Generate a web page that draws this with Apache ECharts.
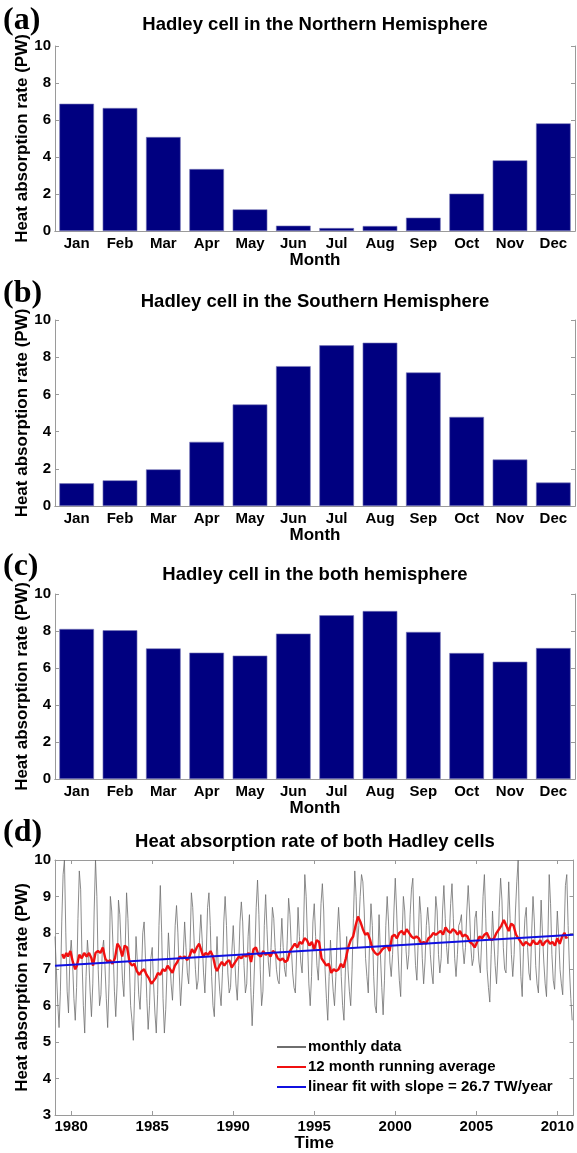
<!DOCTYPE html>
<html>
<head>
<meta charset="utf-8">
<script src="https://cdn.jsdelivr.net/npm/echarts@6/dist/echarts.min.js"></script>
<style>
html, body { margin: 0; padding: 0; background: #fff; }
#chart { width: 577px; height: 1153px; }
</style>
</head>
<body>
<div id="chart"></div>
<script>
// ---- data ----
var months = ['Jan', 'Feb', 'Mar', 'Apr', 'May', 'Jun', 'Jul', 'Aug', 'Sep', 'Oct', 'Nov', 'Dec'];
var northHadley = [6.88, 6.65, 5.08, 3.35, 1.17, 0.29, 0.16, 0.27, 0.72, 2.02, 3.82, 5.82];
var southHadley = [1.22, 1.38, 1.97, 3.45, 5.46, 7.52, 8.64, 8.78, 7.18, 4.79, 2.50, 1.26];
var bothHadley  = [8.11, 8.04, 7.06, 6.83, 6.67, 7.86, 8.85, 9.08, 7.95, 6.81, 6.34, 7.08];

var startYear = 1979;
var yearTicks = [1980, 1985, 1990, 1995, 2000, 2005, 2010];
// monthly data, one row per year 1979..2010
var monthlyByYear = [
  [7.9, 7.0, 6.1, 5.4, 6.4, 8.3, 9.6, 10.0, 8.0, 6.4, 5.8, 7.3],
  [7.8, 7.2, 6.2, 5.6, 6.5, 8.4, 9.7, 9.2, 7.3, 6.0, 5.25, 6.8],
  [7.8, 7.3, 6.4, 5.7, 6.6, 8.6, 10.0, 9.0, 7.0, 6.0, 6.3, 7.5],
  [7.8, 7.1, 6.2, 5.4, 6.6, 9.0, 8.6, 7.6, 6.4, 5.7, 6.6, 8.9],
  [8.5, 7.6, 6.7, 6.25, 7.6, 9.1, 8.4, 7.2, 6.0, 5.6, 5.05, 6.4],
  [7.9, 7.2, 6.3, 5.9, 6.8, 8.0, 8.3, 7.3, 6.2, 5.35, 6.0, 7.3],
  [7.6, 6.6, 5.8, 5.25, 6.3, 8.2, 9.3, 8.0, 6.2, 5.25, 5.9, 7.0],
  [8.0, 7.3, 6.6, 6.15, 7.0, 8.2, 8.75, 8.0, 6.9, 6.0, 5.95, 7.4],
  [8.3, 7.6, 6.9, 6.6, 7.6, 9.1, 8.7, 7.8, 7.0, 6.45, 6.7, 7.8],
  [8.5, 7.8, 6.9, 6.35, 7.4, 8.7, 9.1, 8.2, 6.8, 6.0, 5.7, 7.0],
  [7.9, 7.0, 6.4, 6.0, 6.9, 8.3, 9.0, 8.2, 6.9, 6.35, 6.5, 7.5],
  [8.2, 7.4, 6.6, 6.15, 7.1, 8.3, 8.85, 8.3, 7.1, 6.35, 6.6, 7.9],
  [8.5, 6.5, 5.45, 6.3, 7.4, 8.7, 9.45, 8.5, 7.0, 6.0, 6.4, 8.2],
  [9.05, 8.1, 7.2, 6.8, 7.6, 8.7, 8.4, 7.6, 7.0, 6.7, 6.6, 7.6],
  [8.4, 7.6, 7.0, 6.8, 7.8, 8.95, 8.5, 7.6, 6.9, 6.5, 6.35, 7.5],
  [8.7, 7.9, 7.2, 6.9, 8.0, 9.6, 9.0, 7.8, 6.6, 6.0, 6.8, 8.3],
  [8.8, 7.9, 7.1, 6.7, 7.6, 8.8, 9.35, 8.6, 7.0, 6.2, 5.6, 6.8],
  [7.8, 7.0, 6.4, 6.0, 6.8, 8.0, 8.7, 8.0, 6.8, 6.0, 5.6, 6.9],
  [7.9, 7.0, 6.4, 6.0, 7.0, 8.4, 9.7, 9.0, 7.6, 8.2, 9.0, 9.6],
  [9.4, 8.6, 7.3, 6.8, 6.35, 7.8, 8.8, 8.2, 6.8, 6.0, 5.8, 7.2],
  [8.5, 7.4, 6.5, 5.75, 6.7, 8.2, 9.0, 8.3, 7.2, 6.8, 7.4, 8.6],
  [9.5, 8.6, 7.5, 6.7, 6.25, 7.8, 9.0, 8.6, 7.5, 7.0, 7.4, 8.5],
  [9.2, 9.5, 8.0, 7.1, 6.7, 7.8, 9.0, 8.5, 7.3, 6.6, 7.2, 8.2],
  [8.7, 8.2, 7.4, 6.9, 6.6, 7.9, 9.0, 8.6, 7.4, 6.9, 7.3, 8.6],
  [9.3, 8.4, 7.6, 7.15, 7.9, 8.8, 9.35, 8.4, 7.3, 6.8, 7.4, 8.2],
  [8.3, 8.5, 7.6, 7.15, 7.6, 8.6, 9.3, 8.6, 7.6, 7.1, 7.3, 8.4],
  [8.6, 7.8, 7.2, 6.9, 7.8, 9.0, 9.6, 8.4, 7.0, 6.5, 6.1, 7.4],
  [8.6, 7.8, 7.1, 6.6, 7.4, 8.7, 9.5, 8.9, 7.6, 7.0, 6.9, 8.2],
  [9.4, 8.4, 7.4, 6.8, 7.4, 8.6, 9.4, 10.0, 8.0, 6.8, 6.25, 7.6],
  [8.4, 8.7, 7.6, 6.9, 6.7, 8.0, 9.0, 8.3, 7.1, 6.6, 6.35, 7.6],
  [8.9, 8.0, 7.2, 6.6, 6.25, 7.8, 9.6, 8.8, 7.4, 6.7, 6.45, 7.6],
  [8.6, 7.9, 7.0, 6.6, 6.3, 7.9, 9.3, 9.6, 8.2, 7.0, 6.2, 5.6]
];
// 12 month running average, [year, PW]
var runningAvg = [
  [1979.45,7.42],[1979.55,7.3],[1979.7,7.45],[1979.8,7.35],[1979.95,7.5],[1980.1,7.2],[1980.25,7.0],[1980.35,7.1],
  [1980.5,7.4],[1980.65,7.3],[1980.8,7.45],[1980.95,7.35],[1981.1,7.45],[1981.25,7.3],[1981.35,7.1],[1981.5,7.45],
  [1981.65,7.5],[1981.8,7.45],[1981.95,7.6],[1982.1,7.3],[1982.25,7.2],[1982.4,7.25],[1982.55,7.15],[1982.7,7.3],
  [1982.85,7.7],[1983.0,7.6],[1983.15,7.35],[1983.3,7.65],[1983.45,7.6],[1983.6,7.2],[1983.75,7.1],[1983.9,7.15],
  [1984.05,6.95],[1984.2,6.85],[1984.35,6.95],[1984.5,7.0],[1984.65,6.85],[1984.8,6.75],[1984.95,6.6],[1985.05,6.55],
  [1985.2,6.75],[1985.35,6.9],[1985.5,6.85],[1985.65,7.0],[1985.8,6.95],[1985.95,7.1],[1986.1,7.0],[1986.25,6.9],
  [1986.4,7.1],[1986.55,7.2],[1986.7,7.35],[1986.85,7.3],[1987.0,7.35],[1987.15,7.25],[1987.3,7.35],[1987.45,7.55],
  [1987.6,7.45],[1987.75,7.6],[1987.9,7.7],[1988.0,7.65],[1988.15,7.35],[1988.3,7.45],[1988.45,7.4],[1988.6,7.5],
  [1988.75,7.35],[1988.9,7.05],[1989.0,6.95],[1989.15,7.1],[1989.3,7.2],[1989.45,7.1],[1989.6,7.2],[1989.75,7.25],
  [1989.9,7.05],[1990.05,7.15],[1990.2,7.25],[1990.35,7.35],[1990.5,7.3],[1990.65,7.4],[1990.8,7.35],[1990.95,7.45],
  [1991.1,7.2],[1991.25,7.55],[1991.4,7.6],[1991.55,7.4],[1991.7,7.35],[1991.85,7.5],[1992.0,7.4],[1992.15,7.45],
  [1992.3,7.35],[1992.45,7.5],[1992.6,7.45],[1992.75,7.3],[1992.9,7.25],[1993.05,7.3],[1993.2,7.2],[1993.35,7.25],
  [1993.5,7.5],[1993.65,7.6],[1993.8,7.7],[1993.95,7.6],[1994.1,7.75],[1994.25,7.7],[1994.4,7.85],[1994.55,7.8],
  [1994.7,7.65],[1994.85,7.75],[1995.0,7.55],[1995.15,7.8],[1995.3,7.75],[1995.45,7.3],[1995.6,7.2],[1995.75,7.1],
  [1995.9,7.15],[1996.05,6.9],[1996.2,7.0],[1996.35,6.95],[1996.5,7.0],[1996.65,7.15],[1996.8,7.05],[1996.95,7.3],
  [1997.1,7.6],[1997.25,7.8],[1997.4,7.9],[1997.55,8.2],[1997.7,8.45],[1997.85,8.3],[1998.0,8.1],[1998.15,7.95],
  [1998.3,8.0],[1998.45,7.8],[1998.6,7.55],[1998.75,7.45],[1998.9,7.4],[1999.05,7.45],[1999.2,7.55],[1999.35,7.6],
  [1999.5,7.65],[1999.65,7.5],[1999.8,7.9],[1999.95,7.95],[2000.1,7.85],[2000.25,8.0],[2000.4,8.05],[2000.55,7.95],
  [2000.7,8.1],[2000.85,8.0],[2001.0,7.9],[2001.15,7.85],[2001.3,7.9],[2001.45,7.85],[2001.6,7.7],[2001.75,7.75],
  [2001.9,7.7],[2002.05,7.85],[2002.2,7.9],[2002.35,8.0],[2002.5,7.95],[2002.65,8.0],[2002.8,8.05],[2002.95,7.95],
  [2003.1,8.15],[2003.25,8.05],[2003.4,8.0],[2003.55,8.1],[2003.7,8.05],[2003.85,7.95],[2004.0,8.05],[2004.15,7.9],
  [2004.3,7.95],[2004.45,7.9],[2004.6,7.75],[2004.75,7.7],[2004.9,7.6],[2005.05,7.75],[2005.2,7.9],[2005.35,7.85],
  [2005.5,7.95],[2005.65,8.0],[2005.8,7.85],[2005.95,7.8],[2006.1,7.85],[2006.25,8.0],[2006.4,8.1],[2006.55,8.2],
  [2006.7,8.35],[2006.85,8.2],[2007.0,8.05],[2007.15,8.25],[2007.3,8.2],[2007.45,7.95],[2007.6,7.85],[2007.75,7.75],
  [2007.9,7.65],[2008.05,7.75],[2008.2,7.7],[2008.35,7.65],[2008.5,7.8],[2008.65,7.7],[2008.8,7.7],[2008.95,7.8],
  [2009.1,7.65],[2009.25,7.75],[2009.4,7.8],[2009.55,7.7],[2009.7,7.75],[2009.85,7.65],[2010.0,7.85],[2010.15,7.7],
  [2010.3,7.9],[2010.45,8.0],[2010.55,7.85],[2010.6,7.9]
];
// linear fit, slope 26.7 TW/year
var linearFit = [[1979, 7.10], [2011, 7.95]];

// ---- build series data ----
var monthlyData = [];
monthlyByYear.forEach(function (row, y) {
    row.forEach(function (v, m) {
        monthlyData.push([startYear + y + m / 12, v]);
    });
});

var FONT = 'Liberation Sans';
var frameColor = '#9a9a9a';
var yName = 'Heat absorption rate (PW)';

// bar panels: grid index 0..2, line panel: 3
var grids = [
    { left: 55, right: 2, top: 46, height: 185 },
    { left: 55, right: 2, top: 320, height: 186 },
    { left: 55, right: 2, top: 594, height: 185 },
    { left: 55, right: 2, top: 860, height: 255 }
];

var tickStyle = { inside: true, length: 4, lineStyle: { color: frameColor } };
var lineStyleFrame = { show: true, lineStyle: { color: frameColor, width: 1 } };
var labelStyle = { color: '#000', fontFamily: FONT, fontWeight: 'bold', fontSize: 15 };
var nameStyle = { color: '#000', fontFamily: FONT, fontWeight: 'bold', fontSize: 17 };

var xAxes = [], yAxes = [];
for (var g = 0; g < 3; g++) {
    xAxes.push({
        gridIndex: g, type: 'category', data: months, position: 'bottom',
        axisLine: lineStyleFrame,
        axisTick: Object.assign({ alignWithLabel: true }, tickStyle),
        axisLabel: Object.assign({ margin: 5, interval: 0 }, labelStyle),
        name: 'Month', nameLocation: 'middle', nameGap: 21, nameMoveOverlap: false,
        nameTextStyle: nameStyle
    });
    xAxes.push({
        gridIndex: g, type: 'category', data: months, position: 'top',
        axisLine: lineStyleFrame,
        axisTick: Object.assign({ alignWithLabel: true }, tickStyle),
        axisLabel: { show: false }
    });
    yAxes.push({
        gridIndex: g, type: 'value', min: 0, max: 10, interval: 2, position: 'left',
        axisLine: lineStyleFrame, axisTick: Object.assign({ show: true }, tickStyle),
        splitLine: { show: false },
        axisLabel: Object.assign({ margin: 4 }, labelStyle),
        name: yName, nameLocation: 'middle', nameGap: 24, nameMoveOverlap: false,
        nameTextStyle: nameStyle
    });
    yAxes.push({
        gridIndex: g, type: 'value', min: 0, max: 10, interval: 2, position: 'right',
        axisLine: lineStyleFrame, axisTick: Object.assign({ show: true }, tickStyle),
        splitLine: { show: false }, axisLabel: { show: false }
    });
}
// time panel
xAxes.push({
    gridIndex: 3, type: 'value', min: 1979, max: 2011, position: 'bottom',
    axisLine: lineStyleFrame,
    axisTick: Object.assign({ customValues: yearTicks }, tickStyle),
    axisLabel: Object.assign({
        margin: 4, customValues: yearTicks,
        formatter: function (v) { return String(v); }
    }, labelStyle),
    splitLine: { show: false },
    name: 'Time', nameLocation: 'middle', nameGap: 20, nameMoveOverlap: false,
    nameTextStyle: nameStyle
});
xAxes.push({
    gridIndex: 3, type: 'value', min: 1979, max: 2011, position: 'top',
    axisLine: lineStyleFrame,
    axisTick: Object.assign({ customValues: yearTicks }, tickStyle),
    axisLabel: { show: false }, splitLine: { show: false }
});
yAxes.push({
    gridIndex: 3, type: 'value', min: 3, max: 10, interval: 1, position: 'left',
    axisLine: lineStyleFrame, axisTick: Object.assign({ show: true }, tickStyle),
    splitLine: { show: false },
    axisLabel: Object.assign({ margin: 4 }, labelStyle),
    name: yName, nameLocation: 'middle', nameGap: 24, nameMoveOverlap: false,
    nameTextStyle: nameStyle
});
yAxes.push({
    gridIndex: 3, type: 'value', min: 3, max: 10, interval: 1, position: 'right',
    axisLine: lineStyleFrame, axisTick: Object.assign({ show: true }, tickStyle),
    splitLine: { show: false }, axisLabel: { show: false }
});

function barSeries(i, values) {
    return {
        type: 'bar', xAxisIndex: i * 2, yAxisIndex: i * 2, data: values,
        barWidth: '80%', silent: true,
        itemStyle: { color: '#000080', borderColor: '#7a7ab8', borderWidth: 0.6 }
    };
}

var titles = [
    ['(a)', 'Hadley cell in the Northern Hemisphere', 21, 25],
    ['(b)', 'Hadley cell in the Southern Hemisphere', 294, 302],
    ['(c)', 'Hadley cell in the both hemisphere', 567, 575],
    ['(d)', 'Heat absorption rate of both Hadley cells', 833, 842]
];
var graphics = [];
titles.forEach(function (t) {
    graphics.push({
        type: 'text', x: 3, y: t[2],
        style: { text: t[0], font: 'bold 32px Liberation Serif', fill: '#000', textVerticalAlign: 'middle' }
    });
    graphics.push({
        type: 'text', x: 315, y: t[3],
        style: { text: t[1], font: 'bold 18.5px Liberation Sans', fill: '#000', textAlign: 'center', textVerticalAlign: 'middle' }
    });
});

var myChart = echarts.init(document.getElementById('chart'), null, { renderer: 'canvas' });
var option = {
    backgroundColor: '#fff',
    animation: false,
    grid: grids,
    xAxis: xAxes,
    yAxis: yAxes,
    graphic: graphics,
    legend: {
        left: 276, top: 1039, orient: 'vertical', padding: 0,
        itemWidth: 29, itemHeight: 10, itemGap: 4,
        itemStyle: { opacity: 0 },
        textStyle: { color: '#000', fontFamily: FONT, fontWeight: 'bold', fontSize: 15, lineHeight: 16, padding: [0, 0, 0, -3] },
        data: ['monthly data', '12 month running average', 'linear fit with slope = 26.7 TW/year']
    },
    series: [
        barSeries(0, northHadley),
        barSeries(1, southHadley),
        barSeries(2, bothHadley),
        {
            name: 'monthly data', type: 'line', xAxisIndex: 6, yAxisIndex: 6,
            data: monthlyData, symbol: 'none', silent: true,
            lineStyle: { color: '#6e6e6e', width: 0.8 }, itemStyle: { color: '#6e6e6e' }
        },
        {
            name: '12 month running average', type: 'line', xAxisIndex: 6, yAxisIndex: 6,
            data: runningAvg, symbol: 'none', silent: true,
            lineStyle: { color: '#f01010', width: 2.4 }, itemStyle: { color: '#f01010' }
        },
        {
            name: 'linear fit with slope = 26.7 TW/year', type: 'line', xAxisIndex: 6, yAxisIndex: 6,
            data: linearFit, symbol: 'none', silent: true,
            lineStyle: { color: '#1010e0', width: 2 }, itemStyle: { color: '#1010e0' }
        }
    ]
};
myChart.setOption(option);
window.addEventListener('resize', function () {
    myChart.resize();
});
</script>
</body>
</html>
